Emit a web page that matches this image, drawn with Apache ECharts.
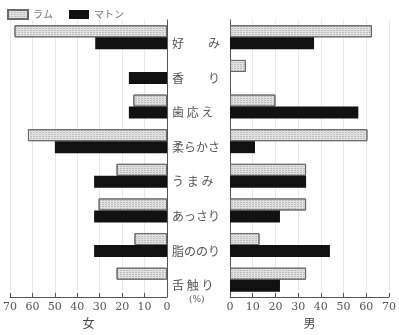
<!DOCTYPE html>
<html><head><meta charset="utf-8">
<script src="https://cdn.jsdelivr.net/npm/echarts@6/dist/echarts.min.js"></script>
<style>html,body{margin:0;padding:0;background:#fff}#c{width:399px;height:335px}</style>
</head><body><div id="c"></div>
<script>
const categories = ['好　　み','香　　り','歯 応 え','柔らかさ','う ま み','あっさり','脂ののり','舌 触 り'];
const femaleLamb = [68, 0, 15, 62, 22.5, 30.5, 14.5, 22.5];
const femaleMutton = [32, 17, 17, 50, 32.5, 32.5, 32.5, 0];
const maleLamb = [62.5, 7, 20, 60.5, 33.5, 33.5, 13, 33.5];
const maleMutton = [37, 0, 56.5, 11, 33.5, 22, 44, 22];
const seriesNames = ['ラム','マトン'];
const axisNames = ['女','男'];
const unitLabel = '(%)';

const chart = echarts.init(document.getElementById('c'));
const serif = '"DejaVu Serif", "Liberation Serif", serif';
const jp = '"Noto Sans CJK JP", sans-serif';
const lambDecal = {symbol:'rect', symbolSize:1, dashArrayX:[[2,1]], dashArrayY:[1,1], rotation:0, color:'rgba(120,120,120,0.35)'};
const lambStyle = {color:'#e2e2e2', borderColor:'#6a6a6a', borderWidth:1, decal:lambDecal};
const muttonStyle = {color:'#111', borderColor:'#111', borderWidth:0};
function xAx(idx, inverse, name){
  return {type:'value', gridIndex:idx, min:0, max:70, interval:10, inverse:inverse,
    name:name, nameLocation:'middle', nameGap:19, nameTextStyle:{fontFamily:jp,fontSize:12,color:'#444'},
    axisLine:{show:true,lineStyle:{color:'#555',width:1}},
    axisTick:{show:true,inside:true,length:4,lineStyle:{color:'#555'}},
    axisLabel:{fontFamily:serif,fontSize:11,color:'#555',margin:5},
    splitLine:{show:true,lineStyle:{color:'#e8e8e8',width:1}}};
}
function yAx(idx, pos, showLabel){
  return {type:'category', gridIndex:idx, data:categories, inverse:true, position:pos,
    axisLine:{show:true,lineStyle:{color:'#555',width:1}}, axisTick:{show:false},
    axisLabel:{show:showLabel, fontFamily:jp, fontSize:12, color:'#555', margin:5, align:'left', verticalAlign:'top'}};
}
const noZero = arr => arr.map(v => v === 0 ? '-' : v);
function bar(name, x, y, data, style){
  return {name:name, type:'bar', xAxisIndex:x, yAxisIndex:y, data:noZero(data), barWidth:12, barGap:'0%', itemStyle:style, silent:true};
}
chart.setOption({
  animation:false,
  aria:{decal:{show:false}},
  textStyle:{fontFamily:jp},
  legend:{left:2, top:4, icon:'rect', itemWidth:20, itemHeight:9, itemGap:16, data:seriesNames,
    textStyle:{fontFamily:jp,fontSize:10,color:'#777'}},
  title:{text:unitLabel, left:184, top:290, textStyle:{fontFamily:serif,fontSize:9,fontWeight:'normal',color:'#555'}},
  grid:[{left:6, right:232, top:20, bottom:38},{left:230, right:8, top:20, bottom:38}],
  xAxis:[xAx(0,true,axisNames[0]), xAx(1,false,axisNames[1])],
  yAxis:[yAx(0,'right',true), yAx(1,'left',false)],
  series:[
    bar(seriesNames[0],0,0,femaleLamb,lambStyle),
    bar(seriesNames[1],0,0,femaleMutton,muttonStyle),
    bar(seriesNames[0],1,1,maleLamb,lambStyle),
    bar(seriesNames[1],1,1,maleMutton,muttonStyle)
  ]
});
</script></body></html>
